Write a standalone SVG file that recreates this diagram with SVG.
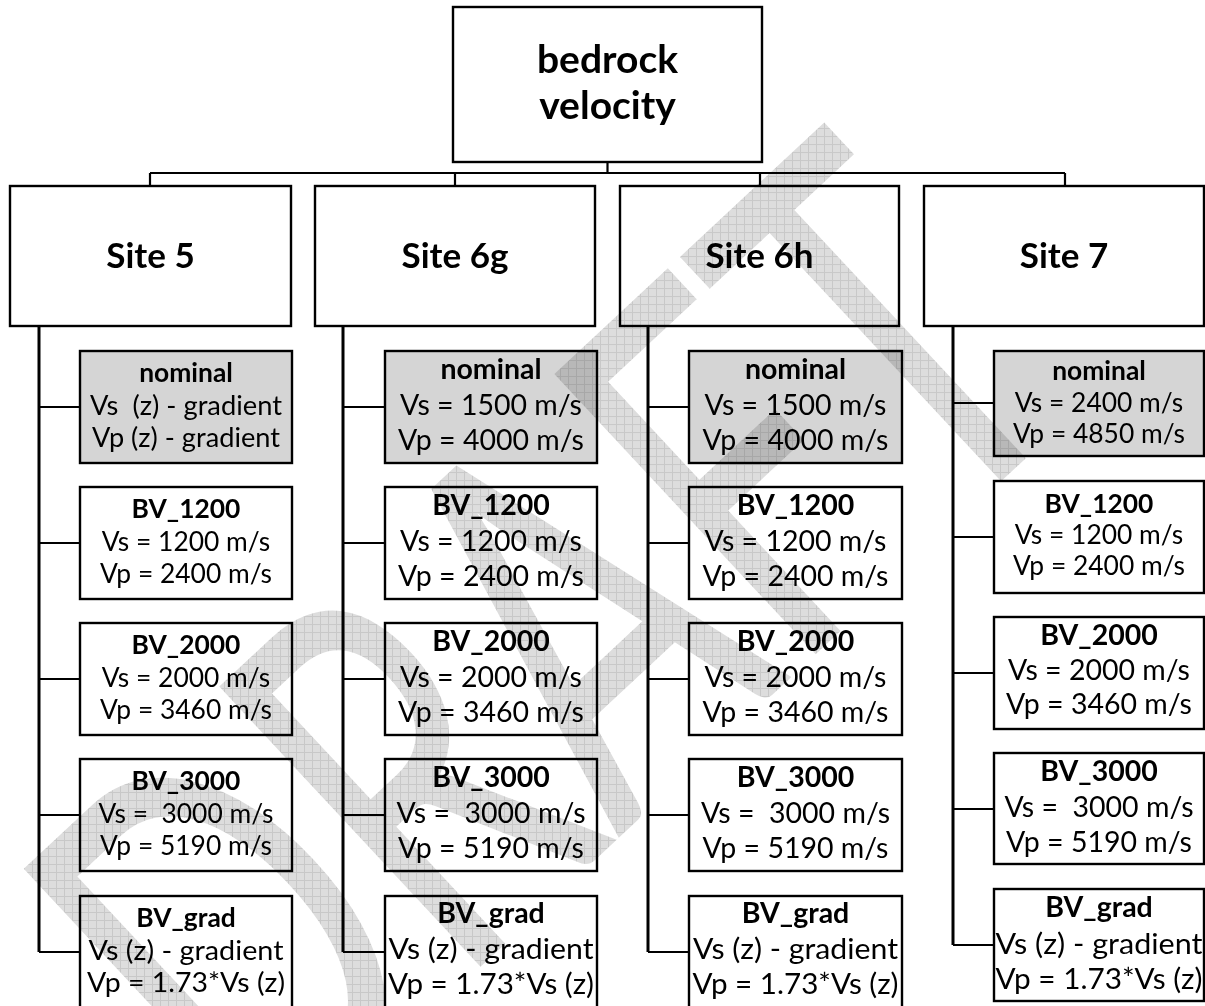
<svg xmlns="http://www.w3.org/2000/svg" width="1205" height="1006" viewBox="0 0 1205 1006">
  <style>
    .box { fill: #ffffff; stroke: #000000; stroke-width: 2.4; }
    .nom { fill: #d5d5d5; }
    .wire { fill: none; stroke: #000000; stroke-width: 2.2; }
    .trunk { fill: none; stroke: #000000; stroke-width: 3; }
    text { font-family: Lato, "Open Sans", sans-serif; fill: #000000; text-anchor: middle; white-space: pre; }
    .s { font-size: 26.4px; }
    .L { font-size: 28.5px; }
    .b { font-weight: bold; }
    .site { font-size: 35px; font-weight: bold; }
    .root { font-size: 39px; font-weight: bold; }
    .mark { font-size: 370px; fill: url(#hatch); text-anchor: start; mix-blend-mode: multiply; }
  </style>
  <defs>
    <!-- grid hatch, kept square to the page by undoing the watermark transform -->
    <pattern id="hatch" width="8" height="8" patternUnits="userSpaceOnUse"
             patternTransform="scale(1.0526 0.6920) rotate(43) translate(-261.5 -1171)">
      <rect width="8" height="8" fill="#dddddd"/>
      <path d="M0 0.5H8M0.5 0V8" stroke="#c8c8c8" stroke-width="1"/>
    </pattern>
  </defs>
  <rect width="1205" height="1006" fill="#ffffff"/>

  <!-- connectors -->
  <g id="connectors">
    <path class="wire" d="M607.5 162V173M150 173H1065M150 173V186M455 173V186M760 173V186M1065 173V186"/>
    <path class="trunk" d="M39 326V952M343 326V952M648 326V952M953 326V945"/>
    <path class="wire" d="M39 407H80M39 543H80M39 679H80M39 815H80M39 952H80"/>
    <path class="wire" d="M343 407H385M343 543H385M343 679H385M343 815H385M343 952H385"/>
    <path class="wire" d="M648 407H689M648 543H689M648 679H689M648 815H689M648 952H689"/>
    <path class="wire" d="M953 403H994M953 537H994M953 673H994M953 809H994M953 945H994"/>
  </g>

  <!-- root -->
  <g id="root">
    <rect class="box" x="453" y="7" width="309" height="155"/>
    <text class="root" x="607.5" y="73">bedrock</text>
    <text class="root" x="607.5" y="119">velocity</text>
  </g>

  <!-- sites -->
  <g id="site5">
    <rect class="box" x="10" y="186" width="281" height="140"/>
    <text class="site" x="150.5" y="268">Site 5</text>
  </g>
  <g id="site6g">
    <rect class="box" x="315" y="186" width="280" height="140"/>
    <text class="site" x="455" y="268">Site 6g</text>
  </g>
  <g id="site6h">
    <rect class="box" x="620" y="186" width="279" height="140"/>
    <text class="site" x="759.5" y="268">Site 6h</text>
  </g>
  <g id="site7">
    <rect class="box" x="924" y="186" width="280" height="140"/>
    <text class="site" x="1064" y="268">Site 7</text>
  </g>

  <!-- Site 5 cases -->
  <g id="s5-nominal">
    <rect class="box nom" x="80" y="351" width="212" height="112"/>
    <text class="s b" x="186" y="382">nominal</text>
    <text class="s" x="186" y="415" textLength="192" lengthAdjust="spacingAndGlyphs">Vs  (z) - gradient</text>
    <text class="s" x="186" y="447" textLength="188" lengthAdjust="spacingAndGlyphs">Vp (z) - gradient</text>
  </g>
  <g id="s5-bv1200">
    <rect class="box" x="80" y="487" width="212" height="112"/>
    <text class="s b" x="186" y="518">BV_1200</text>
    <text class="s" x="186" y="551">Vs = 1200 m/s</text>
    <text class="s" x="186" y="583">Vp = 2400 m/s</text>
  </g>
  <g id="s5-bv2000">
    <rect class="box" x="80" y="623" width="212" height="112"/>
    <text class="s b" x="186" y="654">BV_2000</text>
    <text class="s" x="186" y="687">Vs = 2000 m/s</text>
    <text class="s" x="186" y="719">Vp = 3460 m/s</text>
  </g>
  <g id="s5-bv3000">
    <rect class="box" x="80" y="759" width="212" height="112"/>
    <text class="s b" x="186" y="790">BV_3000</text>
    <text class="s" x="186" y="823">Vs =  3000 m/s</text>
    <text class="s" x="186" y="855">Vp = 5190 m/s</text>
  </g>
  <g id="s5-bvgrad">
    <rect class="box" x="80" y="896" width="212" height="112"/>
    <text class="s b" x="186" y="927">BV_grad</text>
    <text class="s" x="186" y="960" textLength="195" lengthAdjust="spacingAndGlyphs">Vs (z) - gradient</text>
    <text class="s" x="186" y="992" textLength="198" lengthAdjust="spacingAndGlyphs">Vp = 1.73*Vs (z)</text>
  </g>

  <!-- Site 6g cases -->
  <g id="s6g-nominal">
    <rect class="box nom" x="385" y="351" width="212" height="112"/>
    <text class="L b" x="491" y="379">nominal</text>
    <text class="L" x="491" y="415">Vs = 1500 m/s</text>
    <text class="L" x="491" y="450">Vp = 4000 m/s</text>
  </g>
  <g id="s6g-bv1200">
    <rect class="box" x="385" y="487" width="212" height="112"/>
    <text class="L b" x="491" y="515">BV_1200</text>
    <text class="L" x="491" y="551">Vs = 1200 m/s</text>
    <text class="L" x="491" y="586">Vp = 2400 m/s</text>
  </g>
  <g id="s6g-bv2000">
    <rect class="box" x="385" y="623" width="212" height="112"/>
    <text class="L b" x="491" y="651">BV_2000</text>
    <text class="L" x="491" y="687">Vs = 2000 m/s</text>
    <text class="L" x="491" y="722">Vp = 3460 m/s</text>
  </g>
  <g id="s6g-bv3000">
    <rect class="box" x="385" y="759" width="212" height="112"/>
    <text class="L b" x="491" y="787">BV_3000</text>
    <text class="L" x="491" y="823">Vs =  3000 m/s</text>
    <text class="L" x="491" y="858">Vp = 5190 m/s</text>
  </g>
  <g id="s6g-bvgrad">
    <rect class="box" x="385" y="896" width="212" height="112"/>
    <text class="L b" x="491" y="923">BV_grad</text>
    <text class="L" x="491" y="959" textLength="205" lengthAdjust="spacingAndGlyphs">Vs (z) - gradient</text>
    <text class="L" x="491" y="994" textLength="206" lengthAdjust="spacingAndGlyphs">Vp = 1.73*Vs (z)</text>
  </g>

  <!-- Site 6h cases -->
  <g id="s6h-nominal">
    <rect class="box nom" x="689" y="351" width="213" height="112"/>
    <text class="L b" x="795.5" y="379">nominal</text>
    <text class="L" x="795.5" y="415">Vs = 1500 m/s</text>
    <text class="L" x="795.5" y="450">Vp = 4000 m/s</text>
  </g>
  <g id="s6h-bv1200">
    <rect class="box" x="689" y="487" width="213" height="112"/>
    <text class="L b" x="795.5" y="515">BV_1200</text>
    <text class="L" x="795.5" y="551">Vs = 1200 m/s</text>
    <text class="L" x="795.5" y="586">Vp = 2400 m/s</text>
  </g>
  <g id="s6h-bv2000">
    <rect class="box" x="689" y="623" width="213" height="112"/>
    <text class="L b" x="795.5" y="651">BV_2000</text>
    <text class="L" x="795.5" y="687">Vs = 2000 m/s</text>
    <text class="L" x="795.5" y="722">Vp = 3460 m/s</text>
  </g>
  <g id="s6h-bv3000">
    <rect class="box" x="689" y="759" width="213" height="112"/>
    <text class="L b" x="795.5" y="787">BV_3000</text>
    <text class="L" x="795.5" y="823">Vs =  3000 m/s</text>
    <text class="L" x="795.5" y="858">Vp = 5190 m/s</text>
  </g>
  <g id="s6h-bvgrad">
    <rect class="box" x="689" y="896" width="213" height="112"/>
    <text class="L b" x="795.5" y="923">BV_grad</text>
    <text class="L" x="795.5" y="959" textLength="205" lengthAdjust="spacingAndGlyphs">Vs (z) - gradient</text>
    <text class="L" x="795.5" y="994" textLength="206" lengthAdjust="spacingAndGlyphs">Vp = 1.73*Vs (z)</text>
  </g>

  <!-- Site 7 cases -->
  <g id="s7-nominal">
    <rect class="box nom" x="994" y="351" width="210" height="105"/>
    <text class="s b" x="1099" y="380">nominal</text>
    <text class="s" x="1099" y="412">Vs = 2400 m/s</text>
    <text class="s" x="1099" y="443">Vp = 4850 m/s</text>
  </g>
  <g id="s7-bv1200">
    <rect class="box" x="994" y="481" width="210" height="112"/>
    <text class="s b" x="1099" y="513">BV_1200</text>
    <text class="s" x="1099" y="544">Vs = 1200 m/s</text>
    <text class="s" x="1099" y="575">Vp = 2400 m/s</text>
  </g>
  <g id="s7-bv2000">
    <rect class="box" x="994" y="617" width="210" height="112"/>
    <text class="L b" x="1099" y="645">BV_2000</text>
    <text class="L" x="1099" y="680">Vs = 2000 m/s</text>
    <text class="L" x="1099" y="714">Vp = 3460 m/s</text>
  </g>
  <g id="s7-bv3000">
    <rect class="box" x="994" y="753" width="210" height="111"/>
    <text class="L b" x="1099" y="781">BV_3000</text>
    <text class="L" x="1099" y="817">Vs =  3000 m/s</text>
    <text class="L" x="1099" y="852">Vp = 5190 m/s</text>
  </g>
  <g id="s7-bvgrad">
    <rect class="box" x="994" y="889" width="210" height="112"/>
    <text class="L b" x="1099" y="917">BV_grad</text>
    <text class="L" x="1099" y="954" textLength="207" lengthAdjust="spacingAndGlyphs">Vs (z) - gradient</text>
    <text class="L" x="1099" y="989" textLength="207" lengthAdjust="spacingAndGlyphs">Vp = 1.73*Vs (z)</text>
  </g>

  <!-- page watermark, stretched tall as a fitted text shape -->
  <g id="watermark">
    <text class="mark" transform="translate(261.5 1171) rotate(-43) scale(0.95 1.445)">DRAFT</text>
  </g>
</svg>
